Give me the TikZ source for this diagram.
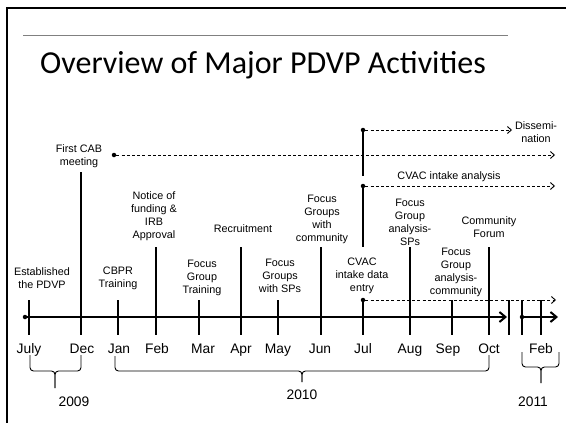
\documentclass[tikz,border=0pt]{standalone}
\usepackage{fontspec}
\setmainfont{Liberation Sans}
\newfontfamily\titlefont{Carlito}
\usetikzlibrary{arrows.meta}

\begin{document}
\begin{tikzpicture}[x=1pt,y=-1pt]
\tikzstyle{event}=[align=center,inner sep=0,font=\fontsize{10.8}{13}\selectfont]
\tikzstyle{month}=[anchor=base,inner sep=0,font=\fontsize{13.8}{16}\selectfont]
\tikzstyle{stroke}=[line width=1.3]
\tikzstyle{plan}=[dashed,dash pattern=on 3pt off 2.2pt,line width=0.9,-{Straight Barb[length=4,width=7]}]
\tikzstyle{yr}=[line width=0.9,rounded corners=3.5]
\tikzstyle{dot}=[circle,fill,inner sep=0,minimum size=4.5]
\useasboundingbox (0,0) rectangle (566,423);
% slide frame and title
\draw[line width=2] (7,423) -- (7,8) -- (566,8);
\draw[gray,line width=1] (23,35) -- (508,35);
\node[anchor=base,inner sep=0,font=\titlefont\fontsize{32}{38}\selectfont] (title) at (263,74) {Overview of Major PDVP Activities};
% time axis
\node[dot] (start) at (25,317) {};
\coordinate (end) at (507,317);
\node[dot] (restart) at (522,317) {};
\coordinate (stop) at (558,317);
\draw[line width=2,-{Straight Barb[length=6,width=10]}] (start) -- (end);
\draw[line width=2,-{Straight Barb[length=6,width=10]}] (restart) -- (stop);
\draw[stroke] (509,300) -- (509,335);
\draw[stroke] (522,300) -- (522,335);
% months
\node[month] (jul9) at (29,353) {July};
\node[month] (dec) at (82,353) {Dec};
\node[month] (jan) at (119,353) {Jan};
\node[month] (feb) at (157,353) {Feb};
\node[month] (mar) at (203,353) {Mar};
\node[month] (apr) at (241,353) {Apr};
\node[month] (may) at (278,353) {May};
\node[month] (jun) at (320,353) {Jun};
\node[month] (jul) at (363,353) {Jul};
\node[month] (aug) at (410,353) {Aug};
\node[month] (sep) at (448,353) {Sep};
\node[month] (oct) at (489,353) {Oct};
\node[month] (feb11) at (541,353) {Feb};
% short ticks
\draw[stroke] (29,300) -- (29,335);
\draw[stroke] (118,300) -- (118,335);
\draw[stroke] (199,300) -- (199,335);
\draw[stroke] (278,300) -- (278,335);
\draw[stroke] (452,300) -- (452,335);
\draw[stroke] (541,300) -- (541,335);
% events
\node[event] (est) at (42,278) {Established\\the PDVP};
\node[event] (cab) at (79,156) {First CAB\\meeting};
\node[event] (notice) at (154,216) {Notice of\\funding \&\\IRB\\Approval};
\node[event] (cbpr) at (118,278) {CBPR\\Training};
\node[event] (fgt) at (202,278) {Focus\\Group\\Training};
\node[event] (recr) at (243,229) {Recruitment};
\node[event] (fgsp) at (280,276) {Focus\\Groups\\with SPs};
\node[event] (fgcom) at (322,219) {Focus\\Groups\\with\\community};
\node[event] (entry) at (362,276) {CVAC\\intake data\\entry};
\node[event] (fgasp) at (410,222) {Focus\\Group\\analysis-\\SPs};
\node[event] (fgacom) at (456,272) {Focus\\Group\\analysis-\\community};
\node[event] (forum) at (489,227) {Community\\Forum};
\node[event] (dissem) at (536,132) {Dissemi-\\nation};
\node[event] (analysis) at (449,177) {CVAC intake analysis};
% long ticks
\draw[stroke] (81,172) -- (81,335);
\draw[stroke] (156,247) -- (156,335);
\draw[stroke] (241,247) -- (241,335);
\draw[stroke] (321,247) -- (321,335);
\draw[stroke] (410,247) -- (410,335);
\draw[stroke] (489,247) -- (489,335);
\node[dot] (d1) at (363,130) {};
\node[dot] (d2) at (363,186) {};
\node[dot] (d3) at (363,300) {};
\node[dot] (d0) at (114,155) {};
\draw[stroke] (d1) -- (363,176);
\draw[stroke] (d2) -- (363,247);
\draw[stroke] (d3) -- (363,335);
% ongoing work
\coordinate (e0) at (555,155);
\coordinate (e1) at (512,130);
\coordinate (e2) at (555,186);
\coordinate (e3) at (556,300);
\draw[plan] (d0) -- (e0);
\draw[plan] (d1) -- (e1);
\draw[plan] (d2) -- (e2);
\draw[plan] (d3) -- (e3);
% years
\draw[yr] (30,355) |- (55,371) -- (55,388);
\draw[yr] (81,355) |- (55,371) -- (55,388);
\node[month] (y2009) at (74,406) {2009};
\draw[yr] (115,356) |- (302,371) -- (302,382);
\draw[yr] (489,355) |- (302,371) -- (302,382);
\node[month] (y2010) at (302,399) {2010};
\draw[yr] (522,352) |- (541,367) -- (541,383);
\draw[yr] (559,352) |- (541,367) -- (541,383);
\node[month] (y2011) at (533,406) {2011};
\end{tikzpicture}
\end{document}
